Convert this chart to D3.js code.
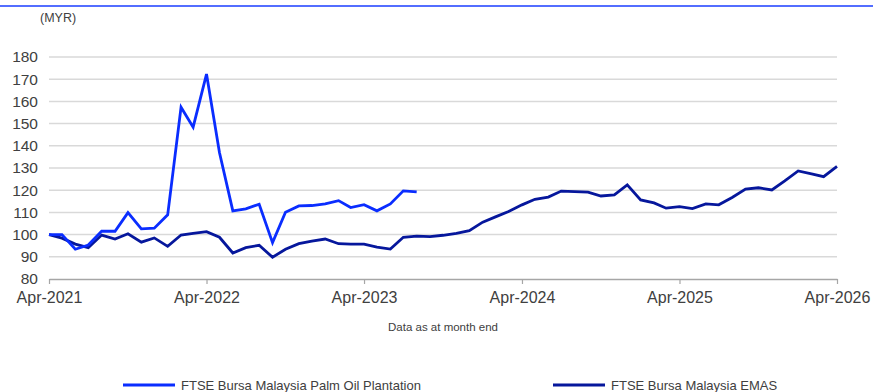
<!DOCTYPE html>
<html>
<head>
<meta charset="utf-8">
<script src="https://cdn.jsdelivr.net/npm/d3@7"></script>
<style>
  html, body { margin: 0; padding: 0; background: #fff; }
  svg { display: block; font-family: "Liberation Sans", Arial, sans-serif; }
</style>
</head>
<body>
<svg id="chart" width="873" height="392"></svg>
<script>
// Monthly index levels, rebased to 100 at April 2021 (month-end values)
const startMonth = new Date(2021, 3, 1);
const palmOil = [100, 100, 93.4, 95.3, 101.6, 101.5, 109.9, 102.6, 102.9, 108.9,
  157.4, 148.4, 172.3, 137, 110.7, 111.6, 113.7, 96.4, 110.1, 112.9,
  113.1, 113.8, 115.3, 112.2, 113.5, 110.7, 113.8, 119.7, 119.2];
const emas = [100, 98.4, 95.7, 94.1, 99.8, 98, 100.4, 96.6, 98.5, 94.7,
  99.8, 100.6, 101.3, 98.8, 91.7, 94.1, 95.2, 89.8, 93.4, 95.9,
  97.1, 98, 95.9, 95.7, 95.7, 94.4, 93.5, 98.8, 99.3, 99.1,
  99.7, 100.6, 101.8, 105.6, 108.1, 110.4, 113.4, 115.9, 116.9, 119.6,
  119.4, 119.1, 117.4, 117.9, 122.4, 115.6, 114.3, 111.9, 112.6, 111.7,
  113.8, 113.4, 116.7, 120.5, 121.1, 120.1, 124.2, 128.7, 127.4, 126.1, 130.7];
const yTicks = [80, 90, 100, 110, 120, 130, 140, 150, 160, 170, 180];
const xTickLabels = ["Apr-2021", "Apr-2022", "Apr-2023", "Apr-2024", "Apr-2025", "Apr-2026"];
const seriesNames = ["FTSE Bursa Malaysia Palm Oil Plantation", "FTSE Bursa Malaysia EMAS"];
const seriesColors = ["#0a2dff", "#06179c"];

const monthDate = i => d3.timeMonth.offset(startMonth, i);
const toPoints = arr => arr.map((v, i) => ({ date: monthDate(i), value: v }));

const svg = d3.select("#chart");
const margin = { left: 49, right: 36, top: 57, bottom: 113 };
const W = 873, H = 392;

const x = d3.scaleTime()
  .domain([startMonth, new Date(2026, 3, 1)])
  .range([margin.left, W - margin.right]);
const y = d3.scaleLinear()
  .domain([80, 180])
  .range([H - margin.bottom, margin.top]);

// header rule
svg.append("line")
  .attr("x1", 0).attr("x2", W).attr("y1", 6).attr("y2", 6)
  .attr("stroke", "#1a3cff").attr("stroke-width", 1.3);

svg.append("text")
  .attr("x", 40).attr("y", 22)
  .attr("font-size", 12.5).attr("fill", "#404040")
  .text("(MYR)");

// horizontal gridlines
svg.append("g")
  .selectAll("line")
  .data(yTicks.filter(t => t > 80))
  .join("line")
  .attr("x1", x.range()[0]).attr("x2", x.range()[1])
  .attr("y1", d => y(d)).attr("y2", d => y(d))
  .attr("stroke", "#d9d9d9").attr("stroke-width", 1.5);

// y axis labels
const yAxis = svg.append("g")
  .attr("transform", `translate(${margin.left},0)`)
  .call(d3.axisLeft(y).tickValues(yTicks).tickSize(0).tickPadding(11));
yAxis.select(".domain").remove();
yAxis.selectAll("text")
  .attr("font-size", 15.5).attr("fill", "#404040")
  .attr("font-family", "Liberation Sans, Arial, sans-serif");

// x axis
const xTickDates = xTickLabels.map((_, i) => d3.timeYear.offset(startMonth, i));
const xAxis = svg.append("g")
  .attr("transform", `translate(0,${y(80)})`)
  .call(d3.axisBottom(x).tickValues(xTickDates)
    .tickFormat((d, i) => xTickLabels[i]).tickSize(5).tickSizeOuter(0).tickPadding(8));
xAxis.select(".domain").attr("stroke", "#a6a6a6").attr("stroke-width", 1.5);
xAxis.selectAll(".tick line").attr("stroke", "#a6a6a6").attr("stroke-width", 1.2);
xAxis.selectAll("text")
  .attr("font-size", 16).attr("fill", "#404040")
  .attr("font-family", "Liberation Sans, Arial, sans-serif");

svg.append("text")
  .attr("x", 443).attr("y", 331)
  .attr("text-anchor", "middle")
  .attr("font-size", 11.5).attr("fill", "#404040")
  .text("Data as at month end");

// series lines
const line = d3.line().x(d => x(d.date)).y(d => y(d.value));
[emas, palmOil].forEach((arr, k) => {
  const idx = k === 0 ? 1 : 0;
  svg.append("path")
    .datum(toPoints(arr))
    .attr("fill", "none")
    .attr("stroke", seriesColors[idx])
    .attr("stroke-width", 2.8)
    .attr("stroke-linejoin", "miter")
    .attr("d", line);
});

// legend
const legendX = [123, 553];
const legend = svg.append("g");
seriesNames.forEach((name, i) => {
  legend.append("line")
    .attr("x1", legendX[i]).attr("x2", legendX[i] + 52)
    .attr("y1", 385).attr("y2", 385)
    .attr("stroke", seriesColors[i]).attr("stroke-width", 3);
  legend.append("text")
    .attr("x", legendX[i] + 58).attr("y", 390)
    .attr("font-size", 13).attr("fill", "#404040")
    .text(name);
});
</script>
</body>
</html>
